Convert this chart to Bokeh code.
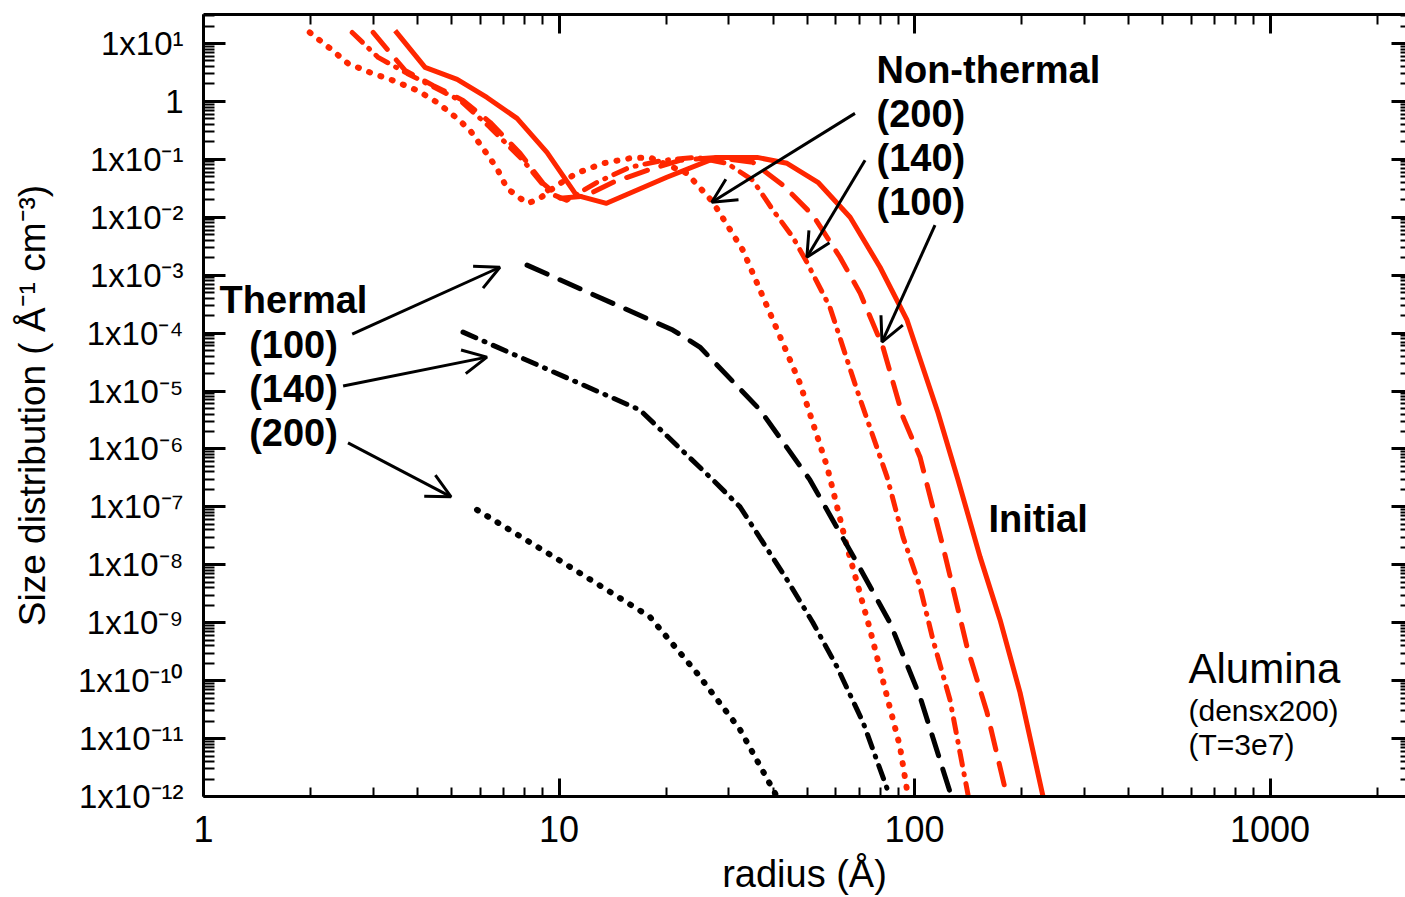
from bokeh.plotting import figure
from bokeh.models import (FixedTicker, LogAxis, Label, Arrow, OpenHead,
                          CustomJSTickFormatter, Range1d)
from bokeh.embed import file_html
from bokeh.resources import INLINE

# Grain size distributions of alumina: radius (Å) vs dN/da (Å^-1 cm^-3)
initial_r = [3.46, 4.20, 5.17, 6.27, 7.62, 9.25, 11.2, 13.6, 20.1, 27.8, 36.1,
             43.8, 53.5, 65.9, 80.0, 95.3, 116.5, 132.6, 152.9, 174.0, 198.1, 229.9]
initial_n = [16.7, 3.86, 2.40, 1.17, 0.509, 0.132, 0.0239, 0.0174, 0.0490, 0.108, 0.108,
             0.0853, 0.0401, 0.01, 1.37e-3, 1.67e-4, 4.18e-6, 2.92e-7, 1.37e-8, 1.13e-9,
             6.21e-11, 1.0e-12]

nonthermal_100_r = [3.00, 3.69, 4.42, 5.37, 6.40, 7.77, 9.02, 10.07, 11.8, 14.2, 17.7, 21.9,
                    27.8, 35.1, 42.7, 51.8, 61.7, 70.3, 81.5, 92.8, 103.6, 120.3, 140.5,
                    160.0, 182.0]
nonthermal_100_n = [15.5, 3.42, 1.89, 1.04, 0.435, 0.127, 0.0385, 0.0213, 0.0230, 0.0401,
                    0.0645, 0.0962, 0.108, 0.0887, 0.0356, 0.0108, 2.04e-3, 4.90e-4, 5.74e-5,
                    3.56e-6, 7.28e-7, 2.04e-8, 3.85e-10, 2.81e-11, 1.0e-12]

nonthermal_140_r = [2.62, 3.10, 3.74, 4.63, 5.27, 6.40, 7.92, 9.43, 10.5, 12.8, 15.8, 19.6,
                    24.4, 29.7, 35.1, 40.0, 45.5, 49.8, 57.8, 68.9, 83.7, 92.8, 103.6, 112.7,
                    125.8, 141.4]
nonthermal_140_n = [15.5, 5.74, 3.04, 1.55, 1.04, 0.356, 0.0962, 0.0259, 0.0196, 0.0401,
                    0.0728, 0.0962, 0.108, 0.0853, 0.0435, 0.0132, 4.52e-3, 1.67e-3, 2.81e-4,
                    1.04e-5, 3.29e-7, 3.04e-8, 4.18e-9, 5.09e-10, 4.70e-11, 1.08e-12]

nonthermal_200_r = [1.99, 2.27, 2.55, 2.94, 3.41, 3.99, 4.54, 5.17, 5.62, 6.11, 6.69, 7.14,
                    7.77, 8.18, 8.84, 9.87, 11.2, 13.3, 15.8, 18.0, 22.9, 27.1, 32.9, 40.0,
                    47.6, 56.8, 64.6, 75.0, 83.7, 91.0, 95.9]
nonthermal_200_n = [15.5, 8.20, 4.52, 3.16, 2.30, 1.55, 0.962, 0.509, 0.316, 0.155, 0.0700,
                    0.0316, 0.0213, 0.0174, 0.0213, 0.0356, 0.0574, 0.0853, 0.104, 0.108,
                    0.0574, 0.0182, 2.70e-3, 1.67e-4, 1.37e-5, 4.90e-7, 2.04e-8, 7.57e-10,
                    5.30e-11, 7.28e-12, 1.0e-12]

thermal_100_r = [8.13, 20.9, 24.9, 36.8, 50.8, 68.9, 85.3, 103.6, 127.0]
thermal_100_n = [1.49e-3, 1.13e-4, 5.74e-5, 4.70e-6, 2.92e-7, 1.08e-8, 1.0e-9, 5.30e-11, 1.0e-12]

thermal_140_r = [5.37, 16.9, 27.1, 32.3, 43.8, 51.8, 60.5, 71.7, 85.3]
thermal_140_n = [1.04e-4, 4.70e-6, 2.92e-7, 1.0e-7, 5.51e-9, 1.0e-9, 1.74e-10, 1.89e-11, 1.0e-12]

thermal_200_r = [5.88, 10.3, 18.0, 24.4, 32.3, 41.0]
thermal_200_n = [8.87e-8, 1.08e-8, 1.27e-9, 1.37e-10, 1.43e-11, 1.0e-12]

x_major = [1, 10, 100, 1000]
y_exponents = list(range(-12, 2))

RED = "#ff2600"
SANS = "Liberation Sans"

y_major = [10.0 ** e for e in y_exponents]
y_minor = [m * 10.0 ** e for e in range(-12, 2) for m in range(2, 10)]
x_minor = [m * 10.0 ** e for e in range(0, 4) for m in range(2, 10)]
x_ticker = FixedTicker(ticks=x_major, minor_ticks=x_minor)
y_ticker = FixedTicker(ticks=y_major, minor_ticks=y_minor)

p = figure(width=1405, height=897, x_axis_type="log", y_axis_type="log",
           x_range=Range1d(1, 2405), y_range=Range1d(1e-12, 10 ** 1.5),
           output_backend="svg", toolbar_location=None,
           min_border_left=203, min_border_right=0, min_border_top=14,
           min_border_bottom=100)
p.grid.visible = False
p.outline_line_color = None
p.background_fill_color = "white"
p.border_fill_color = "white"

# bottom axis
xa = p.xaxis[0]
xa.ticker = x_ticker
xa.formatter = CustomJSTickFormatter(code="return String(Math.round(tick));")
xa.axis_line_width = 3
xa.axis_line_color = "black"
xa.major_tick_line_width = 3
xa.minor_tick_line_width = 2
xa.major_tick_in = 18
xa.major_tick_out = 0
xa.minor_tick_in = 9
xa.minor_tick_out = 0
xa.major_label_text_font = SANS
xa.major_label_text_font_size = "36px"
xa.major_label_text_color = "black"
xa.major_label_text_line_height = 1.0
xa.major_label_standoff = 19
xa.axis_label = "radius (Å)"
xa.axis_label_text_font = SANS
xa.axis_label_text_font_size = "38px"
xa.axis_label_text_font_style = "normal"
xa.axis_label_text_color = "black"
xa.axis_label_text_line_height = 1.0
xa.axis_label_standoff = 8

# left axis
ya = p.yaxis[0]
ya.ticker = y_ticker
ya.formatter = CustomJSTickFormatter(code="""
const e = Math.round(Math.log10(tick));
if (e === 0) { return "1"; }
const sup = {"-": "\u207b", "0": "\u2070", "1": "\u00b9", "2": "\u00b2", "3": "\u00b3",
             "4": "\u2074", "5": "\u2075", "6": "\u2076", "7": "\u2077", "8": "\u2078",
             "9": "\u2079"};
return "1x10" + String(e).split("").map(c => sup[c]).join("");
""")
ya.axis_line_width = 3
ya.axis_line_color = "black"
ya.major_tick_line_width = 3
ya.minor_tick_line_width = 2
ya.major_tick_in = 22
ya.major_tick_out = 0
ya.minor_tick_in = 11
ya.minor_tick_out = 0
ya.major_label_text_font = SANS
ya.major_label_text_font_size = "33px"
ya.major_label_text_color = "black"
ya.major_label_standoff = 20
ya.axis_label = "Size distribution ( Å\u207b\u00b9 cm\u207b\u00b3)"
ya.axis_label_text_font = SANS
ya.axis_label_text_font_size = "37px"
ya.axis_label_text_font_style = "normal"
ya.axis_label_text_color = "black"
ya.axis_label_standoff = 22

# mirrored tick axes on top and right (labels hidden)
top = LogAxis(ticker=x_ticker, major_label_text_font_size="1px", major_label_text_color=None,
              major_label_standoff=0,
              axis_line_width=3, major_tick_line_width=3, minor_tick_line_width=2,
              major_tick_in=19, major_tick_out=0, minor_tick_in=10, minor_tick_out=0)
right = LogAxis(ticker=y_ticker, major_label_text_font_size="1px", major_label_text_color=None,
                major_label_standoff=0,
                axis_line_color=None, major_tick_line_width=3, minor_tick_line_width=2,
                major_tick_in=14, major_tick_out=0, minor_tick_in=5, minor_tick_out=0)
p.add_layout(top, "above")
p.add_layout(right, "right")

# non-thermal (red) and thermal (black) curves
p.line(initial_r, initial_n, line_color=RED, line_width=5, line_join="round")
p.line(nonthermal_100_r, nonthermal_100_n, line_color=RED, line_width=5,
       line_dash="22 14", line_cap="round", line_join="round")
p.line(nonthermal_140_r, nonthermal_140_n, line_color=RED, line_width=5,
       line_dash="14 9 1 9", line_cap="round", line_join="round")
p.line(nonthermal_200_r, nonthermal_200_n, line_color=RED, line_width=6,
       line_dash="1 11", line_cap="round", line_join="round")
p.line(thermal_100_r, thermal_100_n, line_color="black", line_width=5,
       line_dash="22 14", line_cap="round", line_join="round")
p.line(thermal_140_r, thermal_140_n, line_color="black", line_width=5,
       line_dash="14 9 1 9", line_cap="round", line_join="round")
p.line(thermal_200_r, thermal_200_n, line_color="black", line_width=6,
       line_dash="1 11", line_cap="round", line_join="round")

# arrows from the labels to their curves
arrows = [
    ((68.0, 0.621), (26.9, 0.0182)),
    ((72.6, 0.0962), (49.8, 2.04e-3)),
    ((114.2, 7.28e-3), (81.0, 7.00e-5)),
    ((2.62, 9.62e-5), (6.82, 1.37e-3)),
    ((2.47, 1.22e-5), (6.27, 3.85e-5)),
    ((2.55, 1.27e-6), (4.97, 1.49e-7)),
]
for (xs, ys), (xe, ye) in arrows:
    p.add_layout(Arrow(end=OpenHead(size=24, line_width=3, line_color="black"),
                       x_start=xs, y_start=ys, x_end=xe, y_end=ye,
                       line_width=3, line_color="black"))


def label(text, x, y, size, style="normal", align="left"):
    p.add_layout(Label(text=text, x=x, y=y, x_units="screen", y_units="screen",
                       text_font=SANS, text_font_size=size, text_font_style=style,
                       text_align=align, text_baseline="middle", text_color="black"))


label("Non-thermal", 673, 727, "38px", "bold")
label("(200)", 673, 683, "38px", "bold")
label("(140)", 673, 639, "38px", "bold")
label("(100)", 673, 595, "38px", "bold")
label("Thermal", 90, 497, "38px", "bold", "center")
label("(100)", 90, 452, "38px", "bold", "center")
label("(140)", 90, 408, "38px", "bold", "center")
label("(200)", 90, 364, "38px", "bold", "center")
label("Initial", 785, 278, "38px", "bold")
label("Alumina", 985, 128, "42px")
label("(densx200)", 985, 86, "30px")
label("(T=3e7)", 985, 52, "30px")

open("out.html", "w").write(file_html(p, INLINE))
